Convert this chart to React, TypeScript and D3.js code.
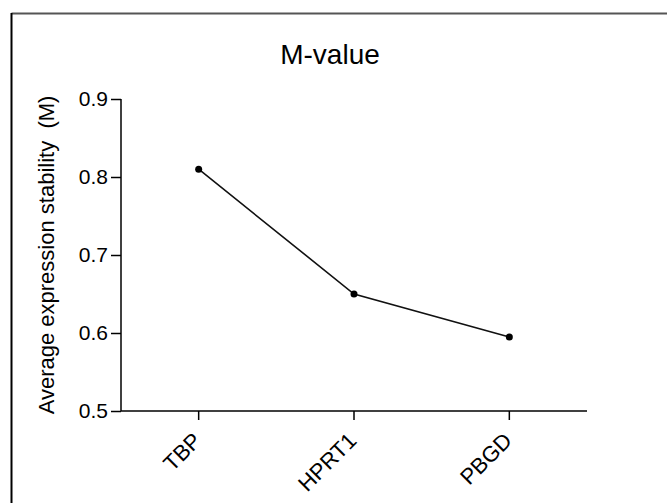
import { useRef, useEffect } from 'react';
import * as d3 from 'd3';

const genes = ['TBP', 'HPRT1', 'PBGD'];
const mValues = [0.81, 0.65, 0.595];
const yTicks = [0.5, 0.6, 0.7, 0.8, 0.9];

const W = 667;
const H = 503;
const FONT = 'Liberation Sans, Arial, sans-serif';

export default function App() {
  const ref = useRef<SVGGElement>(null);

  useEffect(() => {
    const g = d3.select(ref.current);
    g.selectAll('*').remove();

    const x = d3.scaleBand<string>().domain(genes).range([121, 587]);
    const y = d3.scaleLinear().domain([0.5, 0.9]).range([411, 99]);

    // frame (only top and left edges are visible in the picture)
    g.append('line').attr('x1', 11.5).attr('x2', W).attr('y1', 13.5).attr('y2', 13.5)
      .attr('stroke', '#555').attr('stroke-width', 2);
    g.append('line').attr('x1', 11.5).attr('x2', 11.5).attr('y1', 13).attr('y2', H)
      .attr('stroke', '#000').attr('stroke-width', 2);

    g.append('text')
      .attr('x', 330).attr('y', 64)
      .attr('text-anchor', 'middle')
      .attr('font-family', FONT).attr('font-size', 28)
      .text('M-value');

    // y axis
    const yAxis = g.append('g').attr('transform', 'translate(121,0)')
      .call(d3.axisLeft(y).tickValues(yTicks).tickFormat(d3.format('.1f')).tickSize(10).tickPadding(3));
    yAxis.select('.domain').attr('d', `M0,${y(0.9)}V${y(0.5)}`);
    yAxis.selectAll('.tick text').attr('font-size', 21);

    // x axis
    const xAxis = g.append('g').attr('transform', 'translate(0,411)')
      .call(d3.axisBottom(x).tickSize(9).tickSizeOuter(0));
    xAxis.select('.domain').attr('d', 'M121,0H587');
    xAxis.selectAll('.tick text')
      .attr('text-anchor', 'end')
      .attr('dy', null)
      .attr('y', 0).attr('x', 0)
      .attr('font-size', 22)
      .attr('transform', 'translate(4,31) rotate(-45)');

    g.selectAll('.domain, .tick line').attr('stroke', '#000').attr('stroke-width', 1.5);
    g.selectAll('.tick text').attr('font-family', FONT).attr('fill', '#000');

    g.append('text')
      .attr('transform', `translate(54,${(y(0.5) + y(0.9)) / 2}) rotate(-90)`)
      .attr('text-anchor', 'middle')
      .attr('font-family', FONT).attr('font-size', 22)
      .style('white-space', 'pre')
      .text('Average expression stability  (M)');

    const cx = (d: string) => (x(d) ?? 0) + x.bandwidth() / 2;
    const line = d3.line<number>().x((_, i) => cx(genes[i])).y((d) => y(d));

    g.append('path').datum(mValues)
      .attr('d', line)
      .attr('fill', 'none').attr('stroke', '#111').attr('stroke-width', 1.6);

    g.selectAll('circle.pt').data(mValues).join('circle')
      .attr('class', 'pt')
      .attr('cx', (_, i) => cx(genes[i])).attr('cy', (d) => y(d))
      .attr('r', 3.5).attr('fill', '#000');
  }, []);

  return (
    <svg width={W} height={H} style={{ position: 'absolute', left: 0, top: 0, background: '#fff' }}>
      <g ref={ref}></g>
    </svg>
  );
}
